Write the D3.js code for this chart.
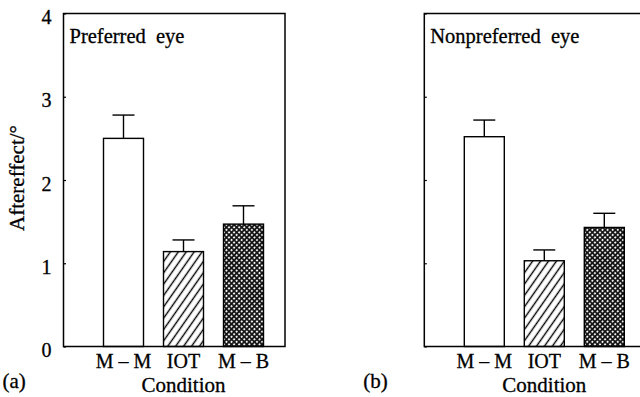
<!DOCTYPE html>
<html>
<head>
<meta charset="utf-8">
<script src="https://cdn.jsdelivr.net/npm/d3@7"></script>
<style>
  body { margin: 0; background: #fff; }
  svg text { fill: #000; stroke: #000; stroke-width: 0.3px; }
</style>
</head>
<body>
<div id="chart"></div>
<script>
const conditions = ["M-M", "IOT", "M-B"];
const preferredMeans = [2.5, 1.14, 1.47];
const preferredErrors = [0.28, 0.14, 0.22];
const nonpreferredMeans = [2.52, 1.03, 1.43];
const nonpreferredErrors = [0.2, 0.13, 0.17];
const yTicks = [0, 1, 2, 3, 4];

const FONT = "'Liberation Serif', 'DejaVu Serif Condensed', serif";

const svg = d3
  .select("#chart")
  .append("svg")
  .attr("width", 640)
  .attr("height", 397)
  .attr("font-family", FONT);

// Patterns
const defs = svg.append("defs");
defs
  .append("pattern")
  .attr("id", "hatch")
  .attr("patternUnits", "userSpaceOnUse")
  .attr("width", 6.5)
  .attr("height", 6.5)
  .attr("patternTransform", "rotate(35)")
  .call((p) => p.append("rect").attr("width", 6.5).attr("height", 6.5).attr("fill", "#fff"))
  .append("line")
  .attr("x1", 3.25)
  .attr("x2", 3.25)
  .attr("y1", -1)
  .attr("y2", 7.5)
  .attr("stroke", "#000")
  .attr("stroke-width", 1.4);

defs
  .append("pattern")
  .attr("id", "cross")
  .attr("patternUnits", "userSpaceOnUse")
  .attr("width", 3.6)
  .attr("height", 3.6)
  .attr("patternTransform", "rotate(45)")
  .call((p) => p.append("rect").attr("width", 3.6).attr("height", 3.6).attr("fill", "#111"))
  .append("circle")
  .attr("cx", 1.8)
  .attr("cy", 1.8)
  .attr("r", 1.05)
  .attr("fill", "#fff");

const fills = ["#fff", "url(#hatch)", "url(#cross)"];

const W = 221.5;
const H = 333;

const drawPanel = (left, title, letter, means, errors, showLabels) => {
  const g = svg.append("g").attr("transform", `translate(${left},13.5)`);

  const x = d3
    .scaleBand()
    .domain(conditions)
    .range([30, 210])
    .paddingInner(1 / 3)
    .paddingOuter(1 / 6);
  const y = d3.scaleLinear().domain([0, 4]).range([H, 0]);

  // Bars
  g.selectAll(".bar")
    .data(means)
    .enter()
    .append("rect")
    .attr("class", "bar")
    .attr("x", (d, i) => x(conditions[i]))
    .attr("width", x.bandwidth())
    .attr("y", (d) => y(d))
    .attr("height", (d) => H - y(d))
    .attr("fill", (d, i) => fills[i])
    .attr("stroke", "#000")
    .attr("stroke-width", 1.4);

  // Error bars (upper only)
  const err = g
    .selectAll(".err")
    .data(means)
    .enter()
    .append("g")
    .attr("class", "err")
    .attr("stroke", "#000")
    .attr("stroke-width", 1.4);
  err
    .append("line")
    .attr("x1", (d, i) => x(conditions[i]) + x.bandwidth() / 2)
    .attr("x2", (d, i) => x(conditions[i]) + x.bandwidth() / 2)
    .attr("y1", (d) => y(d))
    .attr("y2", (d, i) => y(d + errors[i]));
  err
    .append("line")
    .attr("x1", (d, i) => x(conditions[i]) + x.bandwidth() / 2 - 11)
    .attr("x2", (d, i) => x(conditions[i]) + x.bandwidth() / 2 + 11)
    .attr("y1", (d, i) => y(d + errors[i]))
    .attr("y2", (d, i) => y(d + errors[i]));

  // Frame
  g.append("rect")
    .attr("width", W)
    .attr("height", H)
    .attr("fill", "none")
    .attr("stroke", "#000")
    .attr("stroke-width", 1.5);

  // Y axis, small inward ticks
  const yAxis = g
    .append("g")
    .call(
      d3
        .axisLeft(y)
        .tickValues(yTicks)
        .tickSize(-2.5)
        .tickPadding(showLabels ? 12 : 0)
        .tickFormat(showLabels ? d3.format("d") : "")
    )
    .call((a) => a.select(".domain").remove())
    .attr("font-family", FONT)
    .attr("font-size", 20);
  yAxis.selectAll("line").attr("stroke-width", 1.2);
  yAxis.selectAll("text").attr("dy", "0.5em");

  // X axis labels
  g.append("g")
    .attr("transform", `translate(0,${H})`)
    .call(d3.axisBottom(x).tickSize(0).tickPadding(7).tickFormat((d) => d.replace("-", " \u2013 ")))
    .call((a) => a.select(".domain").remove())
    .attr("font-family", FONT)
    .attr("font-size", 20);

  g.append("text")
    .attr("x", 6)
    .attr("y", 29.5)
    .attr("font-size", 20.5)
    .style("white-space", "pre")
    .text(title);

  g.append("text")
    .attr("x", x("IOT") + x.bandwidth() / 2)
    .attr("y", H + 45)
    .attr("text-anchor", "middle")
    .attr("font-size", 21)
    .text("Condition");

  g.append("text")
    .attr("x", -61)
    .attr("y", H + 41)
    .attr("font-size", 21)
    .text(letter);

  return g;
};

drawPanel(63.5, "Preferred  eye", "(a)", preferredMeans, preferredErrors, true);
drawPanel(424.3, "Nonpreferred  eye", "(b)", nonpreferredMeans, nonpreferredErrors, false);

// Y axis title
svg
  .append("text")
  .attr("transform", "translate(24,178) rotate(-90)")
  .attr("text-anchor", "middle")
  .attr("font-size", 21)
  .text("Aftereffect/\u00b0");
</script>
</body>
</html>
